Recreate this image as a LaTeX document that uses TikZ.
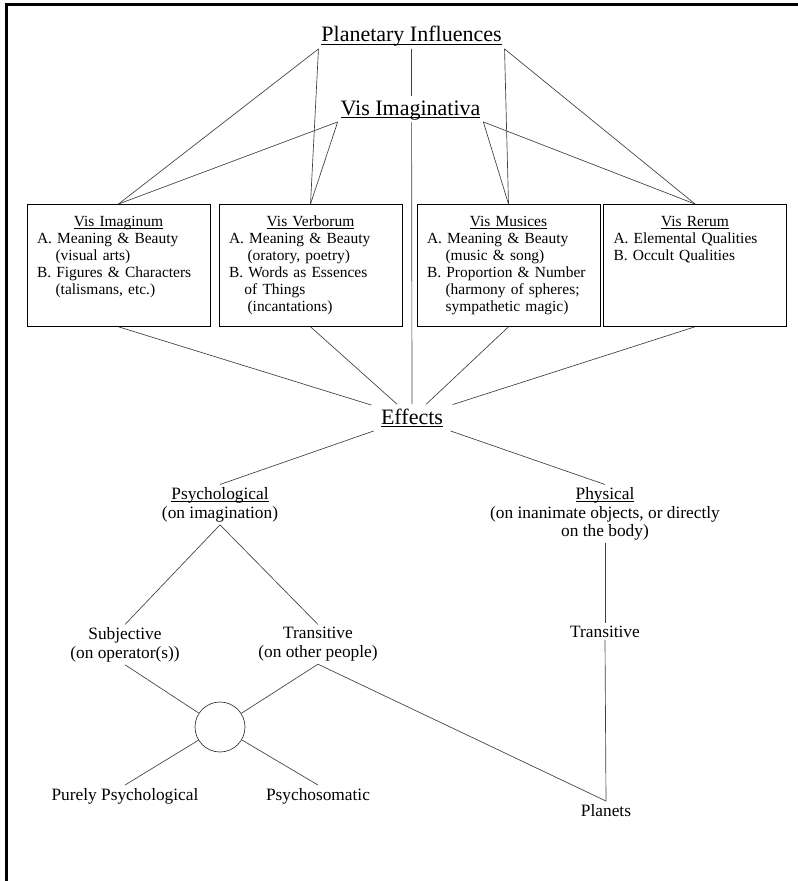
\documentclass[tikz,border=0pt]{standalone}
\usepackage{fontspec}
\setmainfont{Liberation Serif}
\usepackage{tikz}
\usetikzlibrary{positioning, backgrounds}
\newcommand{\ulin}[1]{\underline{\raisebox{0pt}[\height][0pt]{#1}}}
\newcommand{\hind}{\hspace*{1.2em}}

\begin{document}
\begin{tikzpicture}[
    x=0.75pt, y=-0.75pt,
    heading/.style={font=\fontsize{16.5pt}{20pt}\selectfont, anchor=base,
                    inner xsep=2pt, inner ysep=3pt},
    visbox/.style={draw, line width=0.6pt, anchor=north, align=left,
                   text width=122.25pt, inner xsep=7.5pt, inner ysep=0pt,
                   text height=16.5pt, text depth=75pt,
                   font=\fontsize{11.6pt}{12.8pt}\selectfont},
    leaf/.style={font=\fontsize{13pt}{14pt}\selectfont, align=center, inner sep=2pt},
    link/.style={line width=0.5pt, black!75},
  ]
    \useasboundingbox (0,0) rectangle (798,881);

    % frame
    \draw[line width=2.25pt] (6,881) -- (6,5) -- (798,5);

    % top headings
    \node[heading] (planet) at (411.5,42) {\ulin{Planetary Influences}};
    \node[heading, fill=white] (visimag) at (410.5,115) {\ulin{Vis Imaginativa}};

    % the four powers
    \node[visbox] (imag) at (118.5,204) {
      \hfill\ulin{Vis Imaginum}\hfill\null\\
      A. Meaning \& Beauty\\
      \hind(visual arts)\\
      B. Figures \& Characters\\
      \hind(talismans, etc.)};
    \node[visbox] (verb) at (310.5,204) {
      \hfill\ulin{Vis Verborum}\hfill\null\\
      A. Meaning \& Beauty\\
      \hind(oratory, poetry)\\
      B. Words as Essences\\
      \hspace*{1em}of Things\\
      \hind(incantations)};
    \node[visbox] (mus) at (508.5,204) {
      \hfill\ulin{Vis Musices}\hfill\null\\
      A. Meaning \& Beauty\\
      \hind(music \& song)\\
      B. Proportion \& Number\\
      \hind(harmony of spheres;\\
      \hind sympathetic magic)};
    \node[visbox] (rer) at (695,204) {
      \hfill\ulin{Vis Rerum}\hfill\null\\
      A. Elemental Qualities\\
      B. Occult Qualities};

    % effects
    \node[heading, inner xsep=7pt] (effects) at (412,424) {\ulin{Effects}};

    \node[leaf, anchor=north] (psych) at (220,484.5) {\ulin{Psychological}\\(on imagination)};
    \node[leaf, anchor=north] (phys) at (605,484.5)
      {\ulin{Physical}\\(on inanimate objects, or directly\\on the body)};

    \node[leaf, anchor=north] (subj) at (125,624.5) {Subjective\\(on operator(s))};
    \node[leaf, anchor=north] (transl) at (318,624.5) {Transitive\\(on other people)};
    \node[leaf, anchor=base] (transr) at (605,637) {Transitive};

    \node[draw, circle, minimum size=37.5pt, line width=0.5pt, black!80] (hub) at (220,727) {};

    \node[leaf, anchor=base] (pure) at (125,800) {Purely Psychological};
    \node[leaf, anchor=base] (somatic) at (318,800) {Psychosomatic};
    \node[leaf, anchor=base] (planets) at (606,816) {Planets};

    % connectors
    \begin{scope}[on background layer]
      \draw[link] (planet.south west) -- (imag.north);
      \draw[link] (planet.south west) -- (verb.north);
      \draw[link] (planet.south east) -- (mus.north);
      \draw[link] (planet.south east) -- (rer.north);
      \draw[link] (planet.south) -- (effects.north);
      \draw[link] (visimag.south west) -- (imag.north);
      \draw[link] (visimag.south west) -- (verb.north);
      \draw[link] (visimag.south east) -- (mus.north);
      \draw[link] (visimag.south east) -- (rer.north);
      \draw[link] (imag.south) -- (effects);
      \draw[link] (verb.south) -- (effects);
      \draw[link] (mus.south) -- (effects);
      \draw[link] (rer.south) -- (effects);
      \draw[link] (effects) -- (psych.north);
      \draw[link] (effects) -- (phys.north);
      \draw[link] (psych.south) -- (subj.north);
      \draw[link] (psych.south) -- (transl.north);
      \draw[link] (phys.south) -- (transr.north);
      \draw[link] (transr.south) -- (planets.north);
      \draw[link] (subj.south) -- (hub);
      \draw[link] (transl.south) -- (hub);
      \draw[link] (hub) -- (pure.north);
      \draw[link] (hub) -- (somatic.north);
      \draw[link] (transl.south) -- (planets.north);
    \end{scope}
\end{tikzpicture}
\end{document}
